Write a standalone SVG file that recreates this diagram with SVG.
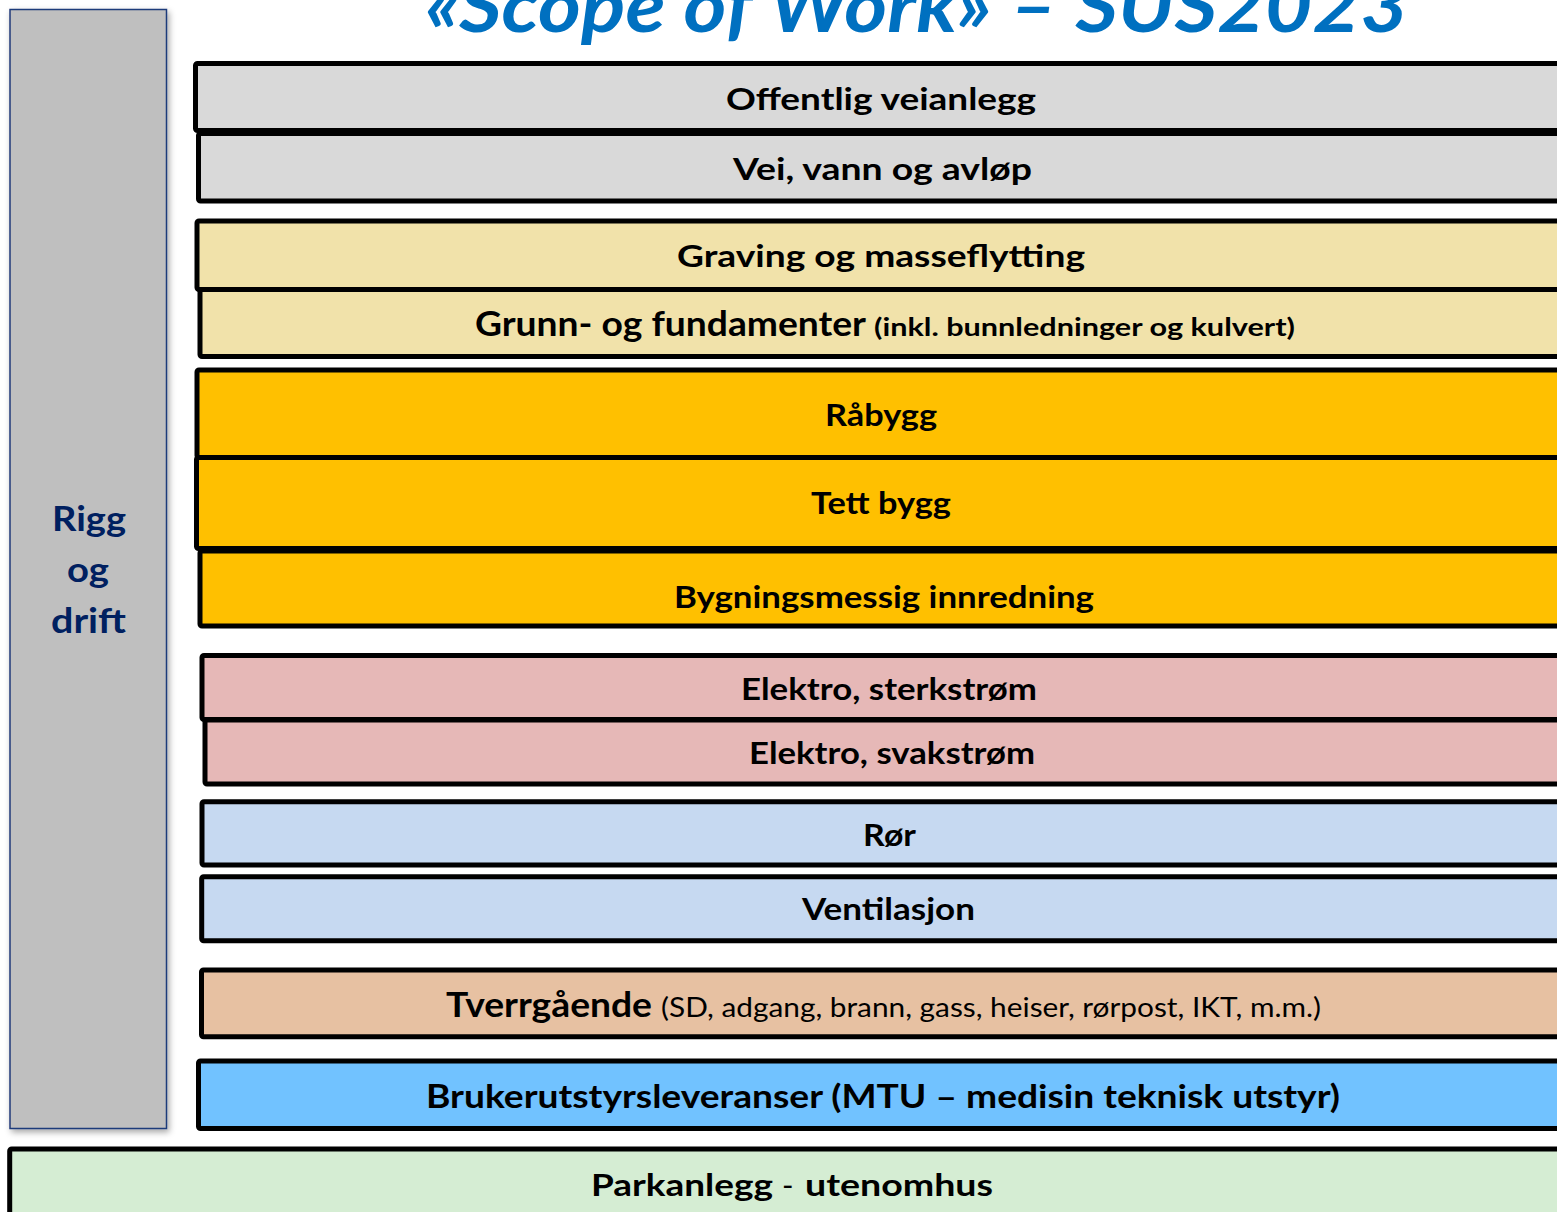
<svg xmlns="http://www.w3.org/2000/svg" width="1557" height="1212" viewBox="0 0 1557 1212">
<style>
.row{stroke:#000;stroke-width:5;stroke-linejoin:round}
.t{font-family:Lato,"Open Sans","DejaVu Sans",sans-serif;font-weight:700;font-size:31px;fill:#000}
.r{font-weight:400}
.side{font-family:Lato,"Open Sans","DejaVu Sans",sans-serif;font-weight:700;font-size:34px;fill:#002060}
.title{font-family:Lato,"Open Sans","DejaVu Sans",sans-serif;font-weight:700;font-style:italic;font-size:74px;fill:#0070C0}
</style>
<defs>
<filter id="sh" x="-10%" y="-5%" width="130%" height="110%">
<feDropShadow dx="2" dy="3" stdDeviation="3" flood-color="#000" flood-opacity="0.35"/>
</filter>
</defs>
<rect width="1557" height="1212" fill="#fff"/>
<g id="title"><text class="title" x="425" y="32" textLength="983" lengthAdjust="spacingAndGlyphs">«Scope of Work» – SUS2023</text></g>
<g id="rigg">
<rect x="10" y="9.5" width="156.5" height="1119" fill="#BFBFBF" stroke="#1F3A7A" stroke-width="1.5" filter="url(#sh)"/>
<text class="side" x="52" y="531" textLength="74" lengthAdjust="spacingAndGlyphs">Rigg</text>
<text class="side" x="67" y="582" textLength="42" lengthAdjust="spacingAndGlyphs">og</text>
<text class="side" x="51" y="633" textLength="75" lengthAdjust="spacingAndGlyphs">drift</text>
</g>
<g id="offentlig"><rect class="row" x="195.5" y="63.5" width="1420" height="67" rx="2" fill="#D9D9D9"/>
<text class="t" x="726" y="110" textLength="310" lengthAdjust="spacingAndGlyphs">Offentlig veianlegg</text></g>
<g id="vei"><rect class="row" x="198.5" y="133.5" width="1420" height="67.5" rx="2" fill="#D9D9D9"/>
<text class="t" x="733" y="180" textLength="299" lengthAdjust="spacingAndGlyphs">Vei, vann og avløp</text></g>
<g id="graving"><rect class="row" x="197" y="221" width="1420" height="68.5" rx="2" fill="#F1E2AA"/>
<text class="t" x="677" y="267" textLength="408" lengthAdjust="spacingAndGlyphs">Graving og masseflytting</text></g>
<g id="grunn"><rect class="row" x="200" y="289.5" width="1420" height="67" rx="2" fill="#F1E2AA"/>
<text class="t" x="475" y="336" style="font-size:35px" textLength="391" lengthAdjust="spacingAndGlyphs">Grunn- og fundamenter</text>
<text class="t" x="874" y="336" style="font-size:25px" textLength="421" lengthAdjust="spacingAndGlyphs">(inkl. bunnledninger og kulvert)</text></g>
<g id="rabygg"><rect class="row" x="197" y="370" width="1420" height="87.5" rx="2" fill="#FFC000"/>
<text class="t" x="825" y="426" textLength="112" lengthAdjust="spacingAndGlyphs">Råbygg</text></g>
<g id="tett"><rect class="row" x="196.5" y="457.5" width="1420" height="91" rx="2" fill="#FFC000"/>
<text class="t" x="811" y="514" textLength="140" lengthAdjust="spacingAndGlyphs">Tett bygg</text></g>
<g id="innredning"><rect class="row" x="200" y="551" width="1420" height="75" rx="2" fill="#FFC000"/>
<text class="t" x="674" y="608" textLength="420" lengthAdjust="spacingAndGlyphs">Bygningsmessig innredning</text></g>
<g id="sterk"><rect class="row" x="202" y="655.5" width="1420" height="64" rx="2" fill="#E6B8B7"/>
<text class="t" x="741" y="700" textLength="296" lengthAdjust="spacingAndGlyphs">Elektro, sterkstrøm</text></g>
<g id="svak"><rect class="row" x="205" y="720" width="1420" height="64" rx="2" fill="#E6B8B7"/>
<text class="t" x="749" y="764" textLength="286" lengthAdjust="spacingAndGlyphs">Elektro, svakstrøm</text></g>
<g id="ror"><rect class="row" x="202" y="801.7" width="1420" height="63.3" rx="2" fill="#C6D9F1"/>
<text class="t" x="863" y="846" textLength="53" lengthAdjust="spacingAndGlyphs">Rør</text></g>
<g id="ventilasjon"><rect class="row" x="201.7" y="876.7" width="1420" height="64" rx="2" fill="#C6D9F1"/>
<text class="t" x="802" y="920" textLength="173" lengthAdjust="spacingAndGlyphs">Ventilasjon</text></g>
<g id="tverr"><rect class="row" x="201.5" y="970" width="1420" height="66.8" rx="2" fill="#E7C1A2"/>
<text class="t" x="446" y="1017" style="font-size:35px" textLength="206" lengthAdjust="spacingAndGlyphs">Tverrgående</text>
<text class="t r" x="661" y="1017" style="font-size:26px" textLength="660" lengthAdjust="spacingAndGlyphs">(SD, adgang, brann, gass, heiser, rørpost, IKT, m.m.)</text></g>
<g id="bruker"><rect class="row" x="198.5" y="1061" width="1420" height="67.5" rx="2" fill="#71C2FF"/>
<text class="t" x="426" y="1108" style="font-size:33px" textLength="914" lengthAdjust="spacingAndGlyphs">Brukerutstyrsleveranser (MTU – medisin teknisk utstyr)</text></g>
<g id="park"><rect class="row" x="9.7" y="1149" width="1620" height="100" rx="2" fill="#D5EDD3"/>
<text class="t" x="591" y="1196" textLength="182" lengthAdjust="spacingAndGlyphs">Parkanlegg</text>
<text class="t r" x="782" y="1196">-</text>
<text class="t" x="805" y="1196" textLength="188" lengthAdjust="spacingAndGlyphs">utenomhus</text></g>
<g id="connectors"></g>
</svg>
